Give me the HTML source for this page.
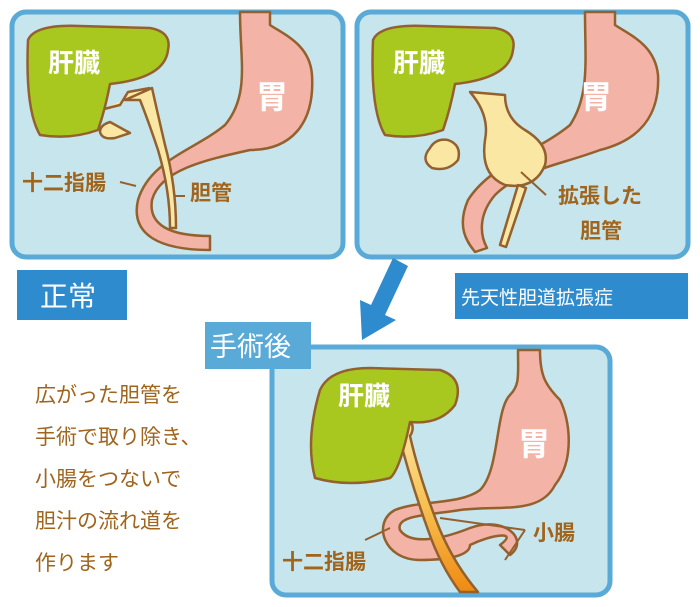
<!DOCTYPE html>
<html><head><meta charset="utf-8"><style>
body{margin:0;background:#fff;width:700px;height:607px;overflow:hidden;font-family:"Liberation Sans","Noto Sans CJK JP",sans-serif}
svg{display:block}
</style></head><body>
<svg width="700" height="607" viewBox="0 0 700 607" xmlns="http://www.w3.org/2000/svg" font-family="Liberation Sans, Noto Sans CJK JP, sans-serif">
<defs>
<linearGradient id="g1" x1="0" y1="0" x2="0" y2="1"><stop offset="0" stop-color="#fbe7a4"/><stop offset="0.5" stop-color="#f7c050"/><stop offset="1" stop-color="#ef8a12"/></linearGradient>
</defs>
<rect x="12" y="12" width="331" height="245" rx="14" fill="#c6e5ec" stroke="#5aaad8" stroke-width="5"/>
<rect x="357" y="12" width="331" height="245" rx="14" fill="#c6e5ec" stroke="#5aaad8" stroke-width="5"/>
<rect x="272" y="347" width="338" height="248" rx="14" fill="#c6e5ec" stroke="#5aaad8" stroke-width="5"/>

<g stroke="#93602e" stroke-width="2.5" stroke-linejoin="round">
<!-- panel1 -->
<path d="M240,12 C240,60 250,95 225,125 C195,150 150,160 138,200 C130,235 160,250 210,250 L210,236 C170,236 148,225 152,200 C160,170 205,160 250,150 C290,150 315,125 312,75 C310,45 285,35 270,25 L270,12 Z" fill="#f3b3a6"/>
<path d="M150,88 L128,92 L120,105 L100,110 M125,100 L140,100 Q148,120 158,150 Q170,190 170,228 L176,228 Q176,185 165,145 Q158,115 152,88 Z" fill="#fbe7a4"/>
<path d="M110,122 Q100,125 100,132 Q102,140 115,138 L130,133 Z" fill="#fbe7a4"/>
<path d="M28,40 Q35,24 80,26 L150,28 Q172,32 168,50 Q165,78 110,84 Q105,110 98,130 Q70,140 40,135 Q25,110 28,40 Z" fill="#a9c81f"/>
<!-- panel2 -->
<path d="M585,12 C585,60 590,95 570,125 C540,150 490,165 468,200 C455,230 470,245 475,252 L487,248 C480,235 478,215 495,195 C520,170 560,165 600,150 C640,140 660,115 658,75 C655,45 630,35 615,25 L615,12 Z" fill="#f3b3a6"/>
<path d="M470,92 Q490,115 485,140 Q480,175 505,185 Q535,190 545,165 Q550,145 525,130 Q505,118 505,95 Z" fill="#fbe7a4"/>
<path d="M518,185 L500,245 L506,247 L526,188 Z" fill="#fbe7a4"/>
<path d="M430,148 Q420,160 432,168 Q448,172 458,160 Q462,145 448,140 Q436,138 430,148 Z" fill="#fbe7a4"/>
<path d="M373,40 Q380,24 425,26 L495,28 Q517,32 513,50 Q510,78 455,84 Q450,110 443,130 Q415,140 385,135 Q370,110 373,40 Z" fill="#a9c81f"/>
<!-- panel3 -->
<path d="M518,350 C518,375 520,385 510,395 C495,410 500,470 480,490 C460,505 420,500 395,510 C372,522 383,560 420,560 C450,560 470,555 470,545 C490,535 520,530 500,545 L510,555 C530,540 505,515 470,528 C440,540 410,545 400,530 C395,515 430,515 460,510 C500,505 540,515 555,485 C575,460 570,420 560,400 C545,385 540,375 540,350 Z" fill="#f3b3a6"/>
<path d="M398,432 Q394,425 400,422 L412,424 Q414,430 410,436 Q420,480 440,530 Q455,565 478,592 L460,592 Q440,565 428,530 Q410,480 398,432 Z" fill="url(#g1)"/>
<path d="M320,390 Q330,368 370,368 L440,370 Q465,378 455,405 Q440,425 410,422 Q400,470 390,478 Q350,488 315,478 Q305,440 320,390 Z" fill="#a9c81f"/>
</g>
<g stroke="#93602e" stroke-width="2" fill="none">
<line x1="120" y1="182" x2="136" y2="186"/><line x1="174" y1="196" x2="185" y2="196"/>
<line x1="521" y1="172" x2="546" y2="195"/>
<line x1="365" y1="540" x2="390" y2="528"/>
<line x1="440" y1="518" x2="525" y2="530"/><line x1="505" y1="560" x2="525" y2="530"/>
</g>
<g fill="#fff" font-size="26" font-weight="bold">
<text x="48" y="72">肝臓</text><text x="393" y="72">肝臓</text><text x="338" y="405">肝臓</text>
<text x="256" y="108" font-size="32">胃</text><text x="580" y="108" font-size="32">胃</text><text x="518" y="455" font-size="32">胃</text>
</g>
<g fill="#a0641c" font-size="21" font-weight="bold">
<text x="22" y="190">十二指腸</text><text x="190" y="200">胆管</text>
<text x="558" y="203">拡張した</text><text x="580" y="238">胆管</text>
<text x="282" y="569">十二指腸</text><text x="533" y="540">小腸</text>
</g>
<g fill="#a0641c" font-size="21">
<text x="35" y="402">広がった胆管を</text><text x="35" y="444">手術で取り除き、</text><text x="35" y="486">小腸をつないで</text><text x="35" y="528">胆汁の流れ道を</text><text x="35" y="570">作ります</text>
</g>
<rect x="17" y="270" width="110" height="50" fill="#2e8bce"/>
<text x="40" y="306" fill="#fff" font-size="28">正常</text>
<rect x="455" y="273" width="233" height="46" fill="#2e8bce"/>
<text x="461" y="304" fill="#fff" font-size="19">先天性胆道拡張症</text>
<path d="M393,258 L408,266 L385,315 L396,320 L362,340 L360,300 L371,305 Z" fill="#2e8bce"/>
<rect x="205" y="322" width="106" height="47" fill="#5aaad8"/>
<text x="210" y="356" fill="#fff" font-size="27">手術後</text>
</svg>
</body></html>
